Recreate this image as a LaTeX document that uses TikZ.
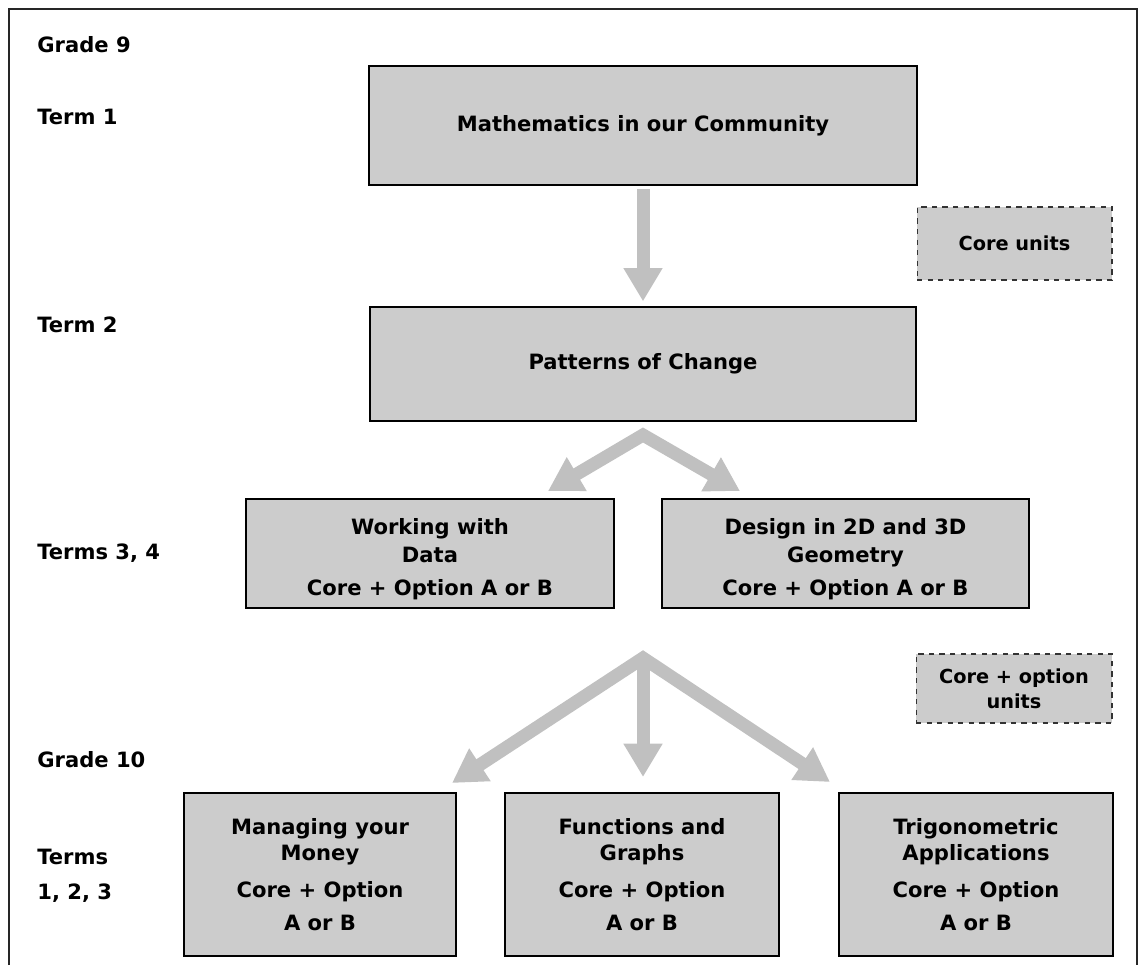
\documentclass[tikz,border=0pt]{standalone}
\usepackage{fontspec}
\setmainfont{DejaVu Sans}
\usetikzlibrary{arrows.meta}

\definecolor{boxgray}{RGB}{204,204,204}
\definecolor{arrowgray}{RGB}{192,192,192}

\tikzset{
  unitbox/.style={draw=black, line width=1.4pt, fill=boxgray, align=center, inner sep=0pt},
  unittext/.style={align=center, inner sep=0pt},
  legendbox/.style={draw=black!80, dashed, line width=0.6pt, fill=boxgray, align=center, inner sep=0pt,
    font=\fontsize{11}{14}\selectfont\bfseries},
  termtext/.style={anchor=west, inner sep=0pt},
  bigarrow/.style={draw=arrowgray, line width=7.4pt, line join=miter, -{Triangle[width=21pt,length=19pt]}},
  twoway/.style={{Triangle[width=21pt,length=19pt]}-{Triangle[width=21pt,length=19pt]}}
}

\begin{document}
\begin{tikzpicture}[x=0.02cm, y=-0.02cm, font=\fontsize{12}{15}\selectfont\bfseries]
        \useasboundingbox (0,0) rectangle (1139,965);
        % Frame
        \draw[line width=1.1pt, black!85] (9,965) -- (9,9) -- (1137,9) -- (1137,965);

        % Grade and term labels
        \node[termtext] (g9) at (37,45) {Grade 9};
        \node[termtext] (t1) at (37,117) {Term 1};
        \node[termtext] (t2) at (37,325) {Term 2};
        \node[termtext] (t34) at (37,553) {Terms 3, 4};
        \node[termtext] (g10) at (37,760) {Grade 10};
        \node[termtext] (t123) at (37,857) {Terms};
        \node[termtext] (t123b) at (37,893) {1, 2, 3};

        % Core units
        \node[unitbox, minimum width=10.96cm, minimum height=2.38cm] (math) at (643,125.5) {Mathematics in our Community};
        \node[unitbox, minimum width=10.92cm, minimum height=2.28cm] (patterns) at (643,364) {Patterns of Change};

        % Core + option units (terms 3, 4)
        \node[unitbox, minimum width=7.36cm, minimum height=2.18cm] (data) at (430,553.5) {};
        \node[unitbox, minimum width=7.34cm, minimum height=2.18cm] (design) at (845.5,553.5) {};
        \node[unittext] (datatext) at (430,559) {Working with\\[1pt]Data\\[4pt]Core + Option A or B};
        \node[unittext] (designtext) at (845.5,559) {Design in 2D and 3D\\[1pt]Geometry\\[4pt]Core + Option A or B};

        % Grade 10 units
        \node[unitbox, minimum width=5.44cm, minimum height=3.26cm] (money) at (320,874.5) {Managing your\\Money\\[6pt]Core + Option\\[4pt]A or B};
        \node[unitbox, minimum width=5.48cm, minimum height=3.26cm] (graphs) at (642,874.5) {Functions and\\Graphs\\[6pt]Core + Option\\[4pt]A or B};
        \node[unitbox, minimum width=5.48cm, minimum height=3.26cm] (trig) at (976,874.5) {Trigonometric\\Applications\\[6pt]Core + Option\\[4pt]A or B};

        % Legend
        \node[legendbox, minimum width=3.9cm, minimum height=1.46cm] (corekey) at (1014.5,243.5) {Core units};
        \node[legendbox, minimum width=3.92cm, minimum height=1.38cm] (optionkey) at (1014,688.5) {Core + option\\units};

        % Arrows
        \draw[bigarrow, shorten <=1.5pt, shorten >=2.5pt] (math) -- (patterns);

        \coordinate (split1) at (643,435);
        \coordinate (toData) at (548,491);
        \coordinate (toDesign) at (740,491);
        \draw[bigarrow, twoway] (toData) -- (split1) -- (toDesign);

        \coordinate (split2) at (643,658);
        \coordinate (toMoney) at (452,783);
        \coordinate (toGraphs) at (643,777);
        \coordinate (toTrig) at (830,782);
        \draw[bigarrow, twoway] (toMoney) -- (split2) -- (toTrig);
        \draw[bigarrow] (split2) -- (toGraphs);
\end{tikzpicture}
\end{document}
